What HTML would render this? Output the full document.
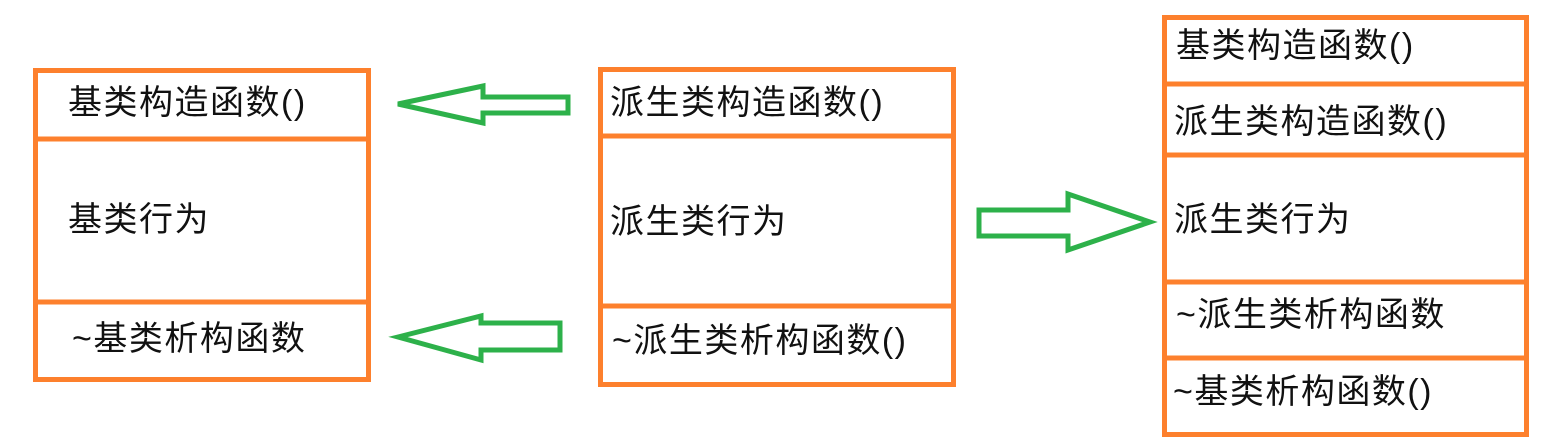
<!DOCTYPE html>
<html><head><meta charset="utf-8"><style>
html,body{margin:0;padding:0;background:#fff;}
body{width:1543px;height:443px;position:relative;overflow:hidden;font-family:"Liberation Sans","Noto Sans CJK SC",sans-serif;}
.t{position:absolute;font-size:34px;letter-spacing:1.5px;color:#111;white-space:nowrap;line-height:1;}
</style></head><body>
<svg width="1543" height="443" style="position:absolute;left:0;top:0">
<g fill="none" stroke="#fd802d" stroke-width="5">
<rect x="35.5" y="70.5" width="333" height="309"/>
<line x1="35" y1="139" x2="369" y2="139"/>
<line x1="35" y1="302" x2="369" y2="302"/>
<rect x="600.5" y="69.5" width="353" height="315"/>
<line x1="600" y1="136" x2="954" y2="136"/>
<line x1="598" y1="306" x2="956" y2="306"/>
<rect x="1164.5" y="17.5" width="362" height="417"/>
<line x1="1164" y1="84" x2="1527" y2="84"/>
<line x1="1164" y1="155" x2="1527" y2="155"/>
<line x1="1164" y1="282" x2="1527" y2="282"/>
<line x1="1162" y1="358" x2="1527" y2="358"/>
</g>
<g fill="none" stroke="#2db14a" stroke-width="5" stroke-linejoin="miter">
<polygon points="398,104 483,86 483,97 568,97 568,113 483,113 483,123"/>
<polygon points="398,337 481,316 481,323 560,323 560,350 481,350 481,360"/>
<polygon points="979,210 1068,210 1068,194 1150,222 1068,250 1068,236 979,236"/>
</g>
</svg>
<div class="t" style="left:68px;top:86px">基类构造函数()</div>
<div class="t" style="left:68px;top:203px">基类行为</div>
<div class="t" style="left:72px;top:322px">~基类析构函数</div>
<div class="t" style="left:610px;top:86px">派生类构造函数()</div>
<div class="t" style="left:610px;top:205px">派生类行为</div>
<div class="t" style="left:612px;top:324px">~派生类析构函数()</div>
<div class="t" style="left:1176px;top:29px">基类构造函数()</div>
<div class="t" style="left:1174px;top:105px">派生类构造函数()</div>
<div class="t" style="left:1174px;top:203px">派生类行为</div>
<div class="t" style="left:1176px;top:298px">~派生类析构函数</div>
<div class="t" style="left:1173px;top:375px">~基类析构函数()</div>
</body></html>
